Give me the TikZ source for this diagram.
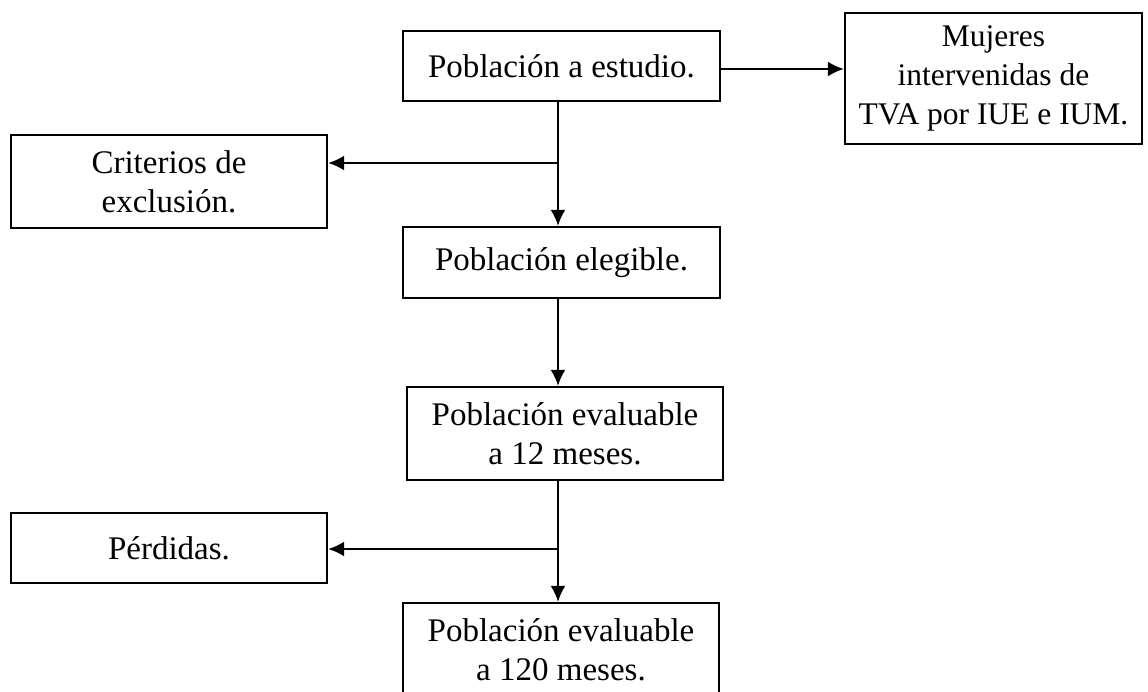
\documentclass[tikz,border=0pt]{standalone}
\usepackage{fontspec}
\setmainfont{Liberation Serif}
\usetikzlibrary{arrows.meta}

\begin{document}
\begin{tikzpicture}[x=1pt,y=-1pt,line width=2.4pt,>={Latex[length=16pt,width=15pt]},
  caja/.style={draw,line width=2.2pt,align=center,inner sep=0pt,font=\fontsize{33}{39}\selectfont}]
  \useasboundingbox (0,0) rectangle (1148,691);
  \clip (0,0) rectangle (1148,691);
  % cajas
  \node[caja,minimum width=317pt,minimum height=70pt] (estudio) at (561.5,66) {Población a estudio.};
  \node[caja,minimum width=297pt,minimum height=131pt,font=\fontsize{31.5}{39}\selectfont] (mujeres) at (993.5,78.5) {Mujeres\\intervenidas de\\TVA por IUE e IUM.};
  \node[caja,minimum width=316pt,minimum height=93pt] (criterios) at (169,181.5) {Criterios de\\exclusión.};
  \node[caja,minimum width=317pt,minimum height=71pt] (elegible) at (561.5,262.5) {Población elegible.};
  \node[caja,minimum width=316pt,minimum height=93pt] (eval12) at (565,433.5) {Población evaluable\\a 12 meses.};
  \node[caja,minimum width=316pt,minimum height=70pt] (perdidas) at (169,548) {Pérdidas.};
  \node[caja,minimum width=316pt,minimum height=93pt] (eval120) at (561,649.5) {Población evaluable\\a 120 meses.};
  % flechas
  \coordinate (b1) at (558,163);
  \coordinate (b2) at (558,549);
  \coordinate (m1) at (720,69);
  \draw[->] (m1) -- (mujeres.west |- m1);
  \draw (estudio.south -| b1) -- (b1);
  \draw[->] (b1) -- (elegible.north -| b1);
  \draw[->] (b1) -- (criterios.east |- b1);
  \draw[->] (elegible.south -| b1) -- (eval12.north -| b1);
  \draw (eval12.south -| b1) -- (b2);
  \draw[->] (b2) -- (eval120.north -| b2);
  \draw[->] (b2) -- (perdidas.east |- b2);
\end{tikzpicture}
\end{document}
